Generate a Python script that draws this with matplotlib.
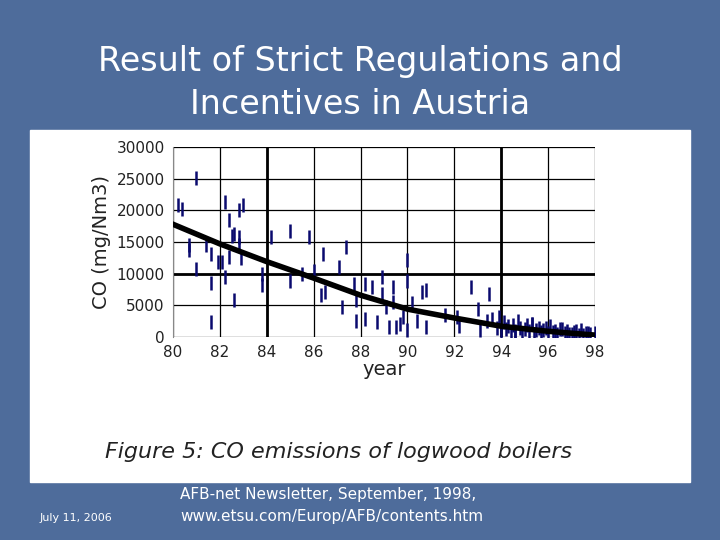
import matplotlib
matplotlib.use("Agg")
import matplotlib.pyplot as plt
import numpy as np

years = [80.2,80.4,81.0,80.7,80.7,81.0,81.4,81.6,81.6,81.6,81.9,82.1,82.2,82.2,82.4,82.4,82.5,82.6,82.6,82.8,82.8,82.8,83.0,82.9,
         83.8,83.8,84.2,85.0,85.5,85.0,85.8,86.0,86.4,86.3,86.5,87.1,87.2,87.4,87.7,87.8,87.8,88.2,88.2,88.5,88.7,88.9,88.9,
         89.1,89.2,89.4,89.4,89.5,89.7,89.8,90.0,90.0,90.0,90.2,90.4,90.6,90.8,90.8,91.6,92.1,92.2,92.7,93.0,93.1,93.5,93.4,
         93.8,94.0,94.1,94.2,94.4,94.5,94.6,94.8,94.9,95.0,95.2,95.3,95.4,95.6,95.7,95.8,96.0,96.1,96.3,96.4,96.5,96.7,96.8,
         97.0,97.1,97.3,97.4,97.6,97.8,98.0,93.6,94.3,94.7,95.1,95.5,95.9,96.2,96.6,96.9,97.2,97.5,97.7,93.9,94.6,95.3]
values = [20800,20250,25150,14500,13700,10800,14500,13150,8500,2400,11800,11800,9500,21300,18400,12600,16000,16300,5900,20000,14500,15800,20800,12400,
          10000,8150,15800,16700,10000,8900,15800,10500,13150,6600,7100,11000,4700,14200,8400,2600,5800,2900,8400,7900,2400,6800,9500,
          4700,1600,5500,7900,1600,2100,3200,12100,8900,1050,5300,2600,7100,7400,1600,3400,3200,1800,7900,4500,1050,6800,2600,
          1500,800,2300,1200,600,1900,1000,1500,700,1300,900,2100,500,1400,800,1100,600,1700,900,400,1200,700,1000,
          500,800,300,1100,600,400,700,2800,1800,2600,1900,1100,1500,800,1300,500,900,300,600,3100,400,2000]
trend_x = [80,82,84,86,88,90,92,94,96,98]
trend_y = [17800,14700,11900,9300,6600,4400,3000,1700,900,300]

fig = plt.figure(figsize=(7.2,5.4), dpi=100)
fig.patch.set_facecolor('#4e6c9b')
fig.add_artist(plt.Rectangle((30/720, 1-482/540), 660/720, 352/540, transform=fig.transFigure, color='white', zorder=0))

fig.text(0.5, 1-62/540, "Result of Strict Regulations and", ha='center', va='center', color='white', fontsize=24)
fig.text(0.5, 1-105/540, "Incentives in Austria", ha='center', va='center', color='white', fontsize=24)

ax = fig.add_axes([173/720, 1-337/540, 422/720, 190/540])
ax.set_xlim(80,98); ax.set_ylim(0,30000)
ax.set_xticks(range(80,99,2)); ax.set_yticks(range(0,30001,5000))
ax.grid(True, color='black', lw=0.9)
for x in [84,94]:
    ax.axvline(x, color='black', lw=2)
ax.axhline(10000, color='black', lw=2)
ax.scatter(years, values, marker='|', s=110, color='#0a0a6e', linewidths=1.8, zorder=3)
ax.plot(trend_x, trend_y, color='black', lw=4, zorder=4)
for s in ax.spines.values():
    s.set_visible(False)
ax.spines['left'].set_visible(True); ax.spines['left'].set_color('#888')
ax.tick_params(length=0, labelsize=11, colors='#222', pad=6)
ax.set_xlabel("year", fontsize=14, labelpad=0, color='#222')
ax.set_ylabel("CO (mg/Nm3)", fontsize=14, color='#222')

fig.text(105/720, 1-452/540, "Figure 5: CO emissions of logwood boilers", ha='left', va='center', fontsize=16, style='italic', color='#222')
fig.text(40/720, 1-518/540, "July 11, 2006", color='white', fontsize=8, va='center')
fig.text(180/720, 1-494/540, "AFB-net Newsletter, September, 1998,", color='white', fontsize=11, va='center')
fig.text(180/720, 1-517/540, "www.etsu.com/Europ/AFB/contents.htm", color='white', fontsize=11, va='center')
fig.savefig("out.png", dpi=100, facecolor=fig.get_facecolor())
